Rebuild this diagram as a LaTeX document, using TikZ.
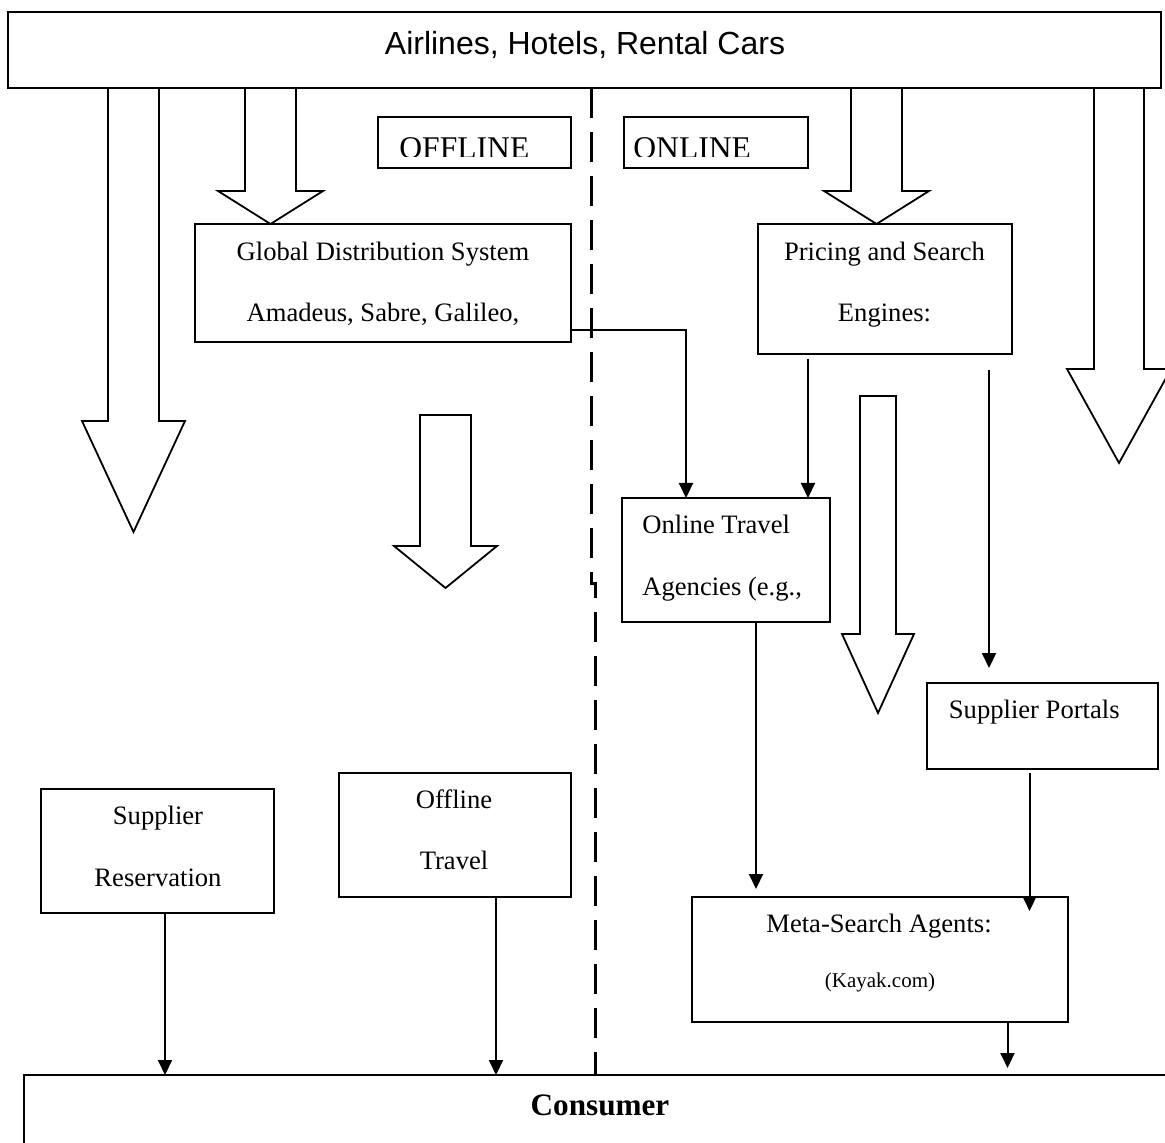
\documentclass[tikz,border=0pt]{standalone}
\usepackage{fontspec}
\setmainfont{Liberation Serif}
\newfontfamily\arialf{Liberation Sans}
\usetikzlibrary{arrows.meta,fit,calc}
\newcommand\hollowdown[6]{% cx, half shaft, ytop, yneck, half head, ytip
  \draw[hollow] ({#1-#2},#3) -- ({#1-#2},#4) -- ({#1-#5},#4) -- (#1,#6) -- ({#1+#5},#4) -- ({#1+#2},#4) -- ({#1+#2},#3);}
\newcommand\hollowclosed[6]{%
  \draw[hollow] ({#1-#2},#3) -- ({#1-#2},#4) -- ({#1-#5},#4) -- (#1,#6) -- ({#1+#5},#4) -- ({#1+#2},#4) -- ({#1+#2},#3) -- cycle;}
\begin{document}
\begin{tikzpicture}[x=0.5pt,y=-0.5pt,
  box/.style={draw, line width=1pt, inner sep=0pt, outer sep=0pt},
  hollow/.style={draw, line width=0.9pt, line join=miter},
  conn/.style={draw, line width=1pt, -{Triangle[length=7.5pt,width=7pt]}},
  txt/.style={inner sep=0pt, anchor=base, font=\fontsize{13.3}{16}\selectfont},
  lefttxt/.style={txt, anchor=base west},
  divider/.style={line width=1.5pt, dash pattern=on 15pt off 7pt},
]
\useasboundingbox (0,0) rectangle (1165,1143);
\clip (0,0) rectangle (1165,1143);

% top box
\node[box, fit={(8,12) (1161,88)}] (top) {};
\node[inner sep=0pt, anchor=base, font=\arialf\fontsize{16}{19}\selectfont] (toptxt) at (585,55) {Airlines, Hotels, Rental Cars};

% OFFLINE / ONLINE labels (text clipped at box bottom)
\node[box, fit={(378,117) (571,168)}] (offl) {};
\node[box, fit={(624,117) (808,168)}] (onl) {};
\begin{scope}
  \clip (370,100) rectangle (820,157);
  \node[inner sep=0pt, anchor=base west, font=\fontsize{15.8}{18}\selectfont] (offltxt) at (399,159) {OFFLINE};
  \node[inner sep=0pt, anchor=base west, font=\fontsize{15.8}{18}\selectfont] (onltxt) at (633,159) {ONLINE};
\end{scope}

% divider
\draw[divider] (591,88) -- (591,583) -- (595,583) -- (595,1075);

% boxes
\node[box, fit={(195,224) (571,342)}] (gds) {};
\node[txt] (gds1) at (383,261) {Global Distribution System};
\node[txt] (gds2) at (383,322) {Amadeus, Sabre, Galileo,};

\node[box, fit={(758,224) (1012,354)}] (pse) {};
\node[txt] (pse1) at (884.5,261) {Pricing and Search};
\node[txt] (pse2) at (884.5,322) {Engines:};

\node[box, fit={(622,498) (830,622)}] (ota) {};
\node[lefttxt] (ota1) at (642,533) {Online Travel};
\node[lefttxt] (ota2) at (642,595) {Agencies (e.g.,};

\node[box, fit={(927,683) (1158,769)}] (sp) {};
\node[lefttxt] (sp1) at (948.5,718) {Supplier Portals};

\node[box, fit={(692,897) (1068,1022)}] (meta) {};
\node[txt] (meta1) at (879,932) {Meta-Search Agents:};
\node[txt, font=\fontsize{10.5}{12}\selectfont] (meta2) at (880,987) {(Kayak.com)};

\node[box, fit={(41,789) (274,913)}] (sres) {};
\node[txt] (sres1) at (158,824) {Supplier};
\node[txt] (sres2) at (158,886) {Reservation};

\node[box, fit={(339,773) (571,897)}] (otrav) {};
\node[txt] (otrav1) at (454,808) {Offline};
\node[txt] (otrav2) at (454,869) {Travel};

\node[box, fit={(24,1075) (1185,1170)}] (cons) {};
\node[txt, font=\bfseries\fontsize{15.6}{18}\selectfont] (constxt) at (600,1115) {Consumer};

% hollow block arrows
\hollowdown{270.5}{25.5}{88}{191}{52.5}{224}
\hollowdown{133.5}{25.5}{88}{421}{51.5}{532}
\hollowclosed{445.5}{25.5}{415}{546}{51.5}{588}
\hollowdown{876.5}{25.5}{88}{191}{52.5}{224}
\hollowdown{1119}{25}{88}{369}{52}{463}
\hollowclosed{878}{18}{396}{634}{36}{713}

% connectors
\coordinate (c1) at (686,330);
\draw[conn] (gds.east |- c1) -| (ota.north -| c1);
\coordinate (c2) at (808,0);
\draw[conn, shorten <=2.5pt] (pse.south -| c2) -- (ota.north -| c2);
\coordinate (c3) at (989,0);
\draw[conn, shorten <=8pt, shorten >=7.5pt] (pse.south -| c3) -- (sp.north -| c3);
\coordinate (c4) at (1029.5,0);
\draw[conn, shorten <=2pt, shorten >=-7pt] (sp.south -| c4) -- (meta.north -| c4);
\coordinate (c5) at (756,0);
\draw[conn, shorten >=4pt] (ota.south -| c5) -- (meta.north -| c5);
\coordinate (c6) at (1007.5,0);
\draw[conn, shorten >=3.5pt] (meta.south -| c6) -- (cons.north -| c6);
\coordinate (c7) at (165,0);
\draw[conn] (sres.south -| c7) -- (cons.north -| c7);
\coordinate (c8) at (496,0);
\draw[conn] (otrav.south -| c8) -- (cons.north -| c8);
\end{tikzpicture}
\end{document}
